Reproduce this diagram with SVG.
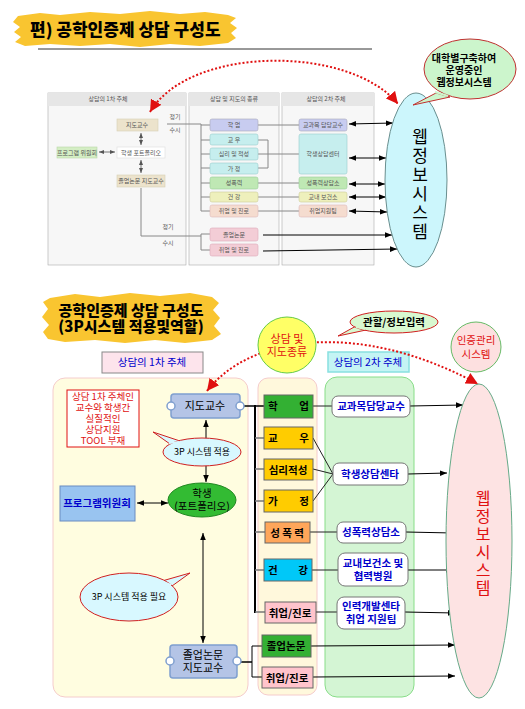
<svg xmlns="http://www.w3.org/2000/svg" width="525" height="709" viewBox="0 0 525 709">
<defs>
<style>
text{font-family:"Noto Sans CJK KR","Noto Sans",sans-serif;}
.t{font-size:6px;fill:#555;text-anchor:middle}
.sb{stroke:#aaa;stroke-width:0.6}
.gl{stroke:#888;stroke-width:1;fill:none}
.bk{stroke:#000;stroke-width:1;fill:none}
.red{stroke:#e01010;stroke-width:2;stroke-dasharray:2,2;fill:none}
.mid{font-size:10.5px;fill:#000;font-weight:bold}
.blu{font-size:10.5px;fill:#0000cc;font-weight:bold;text-anchor:middle}
.bx{stroke:#666;stroke-width:1}
.wb{fill:#fff;stroke:#777;stroke-width:1}
.vt{writing-mode:vertical-rl;text-anchor:start}
</style>
<marker id="ah" viewBox="0 0 10 10" refX="10" refY="5" markerWidth="7" markerHeight="7" orient="auto-start-reverse" markerUnits="userSpaceOnUse"><path d="M0,1 L10,5 L0,9 Z" fill="#000"/></marker>
<marker id="ahs" viewBox="0 0 10 10" refX="10" refY="5" markerWidth="5" markerHeight="5" orient="auto-start-reverse" markerUnits="userSpaceOnUse"><path d="M0,1 L10,5 L0,9 Z" fill="#555"/></marker>
<marker id="rh" viewBox="0 0 10 10" refX="10" refY="5" markerWidth="12" markerHeight="12" orient="auto-start-reverse" markerUnits="userSpaceOnUse"><path d="M0,0 L10,5 L0,10 Z" fill="#e01010"/></marker>
</defs>
<rect width="525" height="709" fill="#fff"/>

<!-- ===== TOP SECTION ===== -->
<g id="title1">
<path d="M18,16 L40,13 L60,15 L90,12 L120,14 L150,11 L180,14 L205,12 L228,15 L236,18 L230,23 L237,28 L231,33 L236,38 L228,43 L200,46 L170,44 L140,47 L110,44 L80,46 L50,44 L25,46 L15,42 L21,37 L14,32 L20,27 L13,22 Z" fill="#f9c530"/>
<text x="30" y="36" font-size="17" font-weight="900" fill="#000">편) 공학인증제 상담 구성도</text>
</g>
<line x1="38" y1="49" x2="372" y2="49" stroke="#333" stroke-width="1"/>

<g id="embedded">
<rect x="48" y="93" width="138" height="172" fill="#f7f7f7" class="sb"/>
<rect x="48" y="93" width="138" height="13" fill="#e6e6e6"/>
<rect x="189" y="93" width="90" height="172" fill="#f7f7f7" class="sb"/>
<rect x="189" y="93" width="90" height="13" fill="#e6e6e6"/>
<rect x="282" y="93" width="92" height="172" fill="#f7f7f7" class="sb"/>
<rect x="282" y="93" width="92" height="13" fill="#e6e6e6"/>
<text class="t" x="108" y="101">상담의 1차 주체</text>
<text class="t" x="234" y="101">상담 및 지도의 종류</text>
<text class="t" x="326" y="101">상담의 2차 주체</text>
<rect x="117" y="119" width="41" height="12" fill="#ece3cc" stroke="#d8cfb4" stroke-width="0.6"/>
<text class="t" x="137" y="127">지도교수</text>
<rect x="117" y="147" width="48" height="11" fill="#fff" stroke="#ddd" stroke-width="0.6"/>
<text class="t" x="141" y="155">학생 포트폴리오</text>
<rect x="57" y="147" width="40" height="11" fill="#d4eec4" stroke="#b8d8a8" stroke-width="0.6"/>
<text class="t" x="77" y="155">프로그램 위원회</text>
<rect x="117" y="175" width="48" height="12" fill="#ece3cc" stroke="#d8cfb4" stroke-width="0.6"/>
<text class="t" x="141" y="183">졸업논문 지도교수</text>
<line x1="141" y1="133" x2="141" y2="145" stroke="#555" stroke-width="0.8" marker-start="url(#ahs)" marker-end="url(#ahs)"/>
<line x1="141" y1="160" x2="141" y2="173" stroke="#555" stroke-width="0.8" marker-start="url(#ahs)" marker-end="url(#ahs)"/>
<line x1="99" y1="152" x2="115" y2="152" stroke="#555" stroke-width="0.8" marker-start="url(#ahs)" marker-end="url(#ahs)"/>
<text class="t" x="175" y="119">정기</text>
<text class="t" x="175" y="132">수시</text>
<text class="t" x="168" y="229">정기</text>
<text class="t" x="168" y="245">수시</text>
<g class="gl">
<polyline points="167,124 201,124 201,211 210,211"/>
<line x1="201" y1="125" x2="210" y2="125"/>
<line x1="201" y1="140" x2="210" y2="140"/>
<line x1="201" y1="154" x2="210" y2="154"/>
<line x1="201" y1="168" x2="210" y2="168"/>
<line x1="201" y1="183" x2="210" y2="183"/>
<line x1="201" y1="197" x2="210" y2="197"/>
<polyline points="141,188 141,236 201,236"/>
<polyline points="210,234 201,234 201,250 210,250"/>
<line x1="258" y1="125" x2="299" y2="125"/>
<polyline points="258,140 268,140 268,168 258,168"/>
<line x1="258" y1="154" x2="299" y2="154"/>
<line x1="258" y1="183" x2="299" y2="183"/>
<line x1="258" y1="197" x2="299" y2="197"/>
<line x1="258" y1="211" x2="299" y2="211"/>
</g>
<rect x="210" y="119" width="48" height="12" rx="2" fill="#c8ccf0" stroke="#aab" stroke-width="0.6"/>
<text class="t" x="234" y="127">학 업</text>
<rect x="210" y="134" width="48" height="11" rx="2" fill="#c6eeee" stroke="#9cc" stroke-width="0.6"/>
<text class="t" x="234" y="142">교 우</text>
<rect x="210" y="148" width="48" height="12" rx="2" fill="#c6eeee" stroke="#9cc" stroke-width="0.6"/>
<text class="t" x="234" y="156">심리 및 적성</text>
<rect x="210" y="163" width="48" height="11" rx="2" fill="#c6eeee" stroke="#9cc" stroke-width="0.6"/>
<text class="t" x="234" y="171">가 정</text>
<rect x="210" y="177" width="48" height="12" rx="2" fill="#bfe8b4" stroke="#9c9" stroke-width="0.6"/>
<text class="t" x="234" y="185">성폭력</text>
<rect x="210" y="192" width="48" height="10" rx="2" fill="#eef0bc" stroke="#cc9" stroke-width="0.6"/>
<text class="t" x="234" y="199">건 강</text>
<rect x="210" y="205" width="48" height="12" rx="2" fill="#f5dccf" stroke="#dbb" stroke-width="0.6"/>
<text class="t" x="234" y="213">취업 및 진로</text>
<rect x="210" y="228" width="48" height="13" rx="2" fill="#f3cdd6" stroke="#dab" stroke-width="0.6"/>
<text class="t" x="234" y="237">졸업논문</text>
<rect x="210" y="244" width="48" height="12" rx="2" fill="#f3cdd6" stroke="#dab" stroke-width="0.6"/>
<text class="t" x="234" y="252">취업 및 진로</text>
<rect x="299" y="119" width="48" height="12" rx="2" fill="#c8ccf0" stroke="#aab" stroke-width="0.6"/>
<text class="t" x="323" y="127">교과목 담당교수</text>
<rect x="299" y="134" width="48" height="40" rx="2" fill="#c6eeee" stroke="#9cc" stroke-width="0.6"/>
<text class="t" x="323" y="156">학생상담센터</text>
<rect x="299" y="177" width="48" height="12" rx="2" fill="#bfe8b4" stroke="#9c9" stroke-width="0.6"/>
<text class="t" x="323" y="185">성폭력상담소</text>
<rect x="299" y="192" width="48" height="10" rx="2" fill="#eef0bc" stroke="#cc9" stroke-width="0.6"/>
<text class="t" x="323" y="199">교내 보건소</text>
<rect x="299" y="205" width="48" height="12" rx="2" fill="#f5dccf" stroke="#dbb" stroke-width="0.6"/>
<text class="t" x="323" y="213">취업지원팀</text>
</g>

<g id="top-connectors">
<line x1="349" y1="124" x2="393" y2="123" class="bk" marker-start="url(#ah)" marker-end="url(#ah)"/>
<line x1="349" y1="158" x2="386" y2="158" class="bk" marker-start="url(#ah)" marker-end="url(#ah)"/>
<line x1="349" y1="184" x2="385" y2="184" class="bk" marker-start="url(#ah)" marker-end="url(#ah)"/>
<line x1="349" y1="197" x2="386" y2="197" class="bk" marker-start="url(#ah)" marker-end="url(#ah)"/>
<line x1="349" y1="211" x2="387" y2="212" class="bk" marker-start="url(#ah)" marker-end="url(#ah)"/>
<line x1="263" y1="235" x2="392" y2="235" class="bk" marker-end="url(#ah)"/>
<line x1="263" y1="251" x2="397" y2="249" class="bk" marker-end="url(#ah)"/>
<path d="M150,112 C190,45 350,45 398,104" class="red" marker-start="url(#rh)" marker-end="url(#rh)"/>
</g>

<g id="web1">
<ellipse cx="416" cy="180" rx="31" ry="87" fill="#ccf6fc" stroke="#6a8f8f" stroke-width="1"/>
<text class="vt" x="420" y="128" font-size="17" letter-spacing="2" fill="#000">웹정보시스템</text>
</g>
<g id="bubble1">
<path d="M436,93 L413,105 L450,97 Z" fill="#ccf5cc" stroke="#c03030" stroke-width="1"/>
<ellipse cx="470" cy="69" rx="46" ry="30" fill="#ccf5cc" stroke="#c03030" stroke-width="1"/>
<path d="M435,92 L448,96" stroke="#ccf5cc" stroke-width="2"/>
<text font-size="10" font-weight="bold" text-anchor="middle" fill="#000"><tspan x="464" y="62">대학별구축하여</tspan><tspan x="464" y="74">운영중인</tspan><tspan x="464" y="86">웹정보시스템</tspan></text>
</g>

<!-- ===== BOTTOM SECTION ===== -->
<g id="title2">
<path d="M50,298 L75,294 L100,297 L130,293 L160,296 L190,293 L212,297 L219,303 L213,310 L220,318 L214,326 L221,334 L212,340 L185,343 L155,340 L125,343 L95,340 L65,342 L48,339 L43,332 L49,325 L42,317 L48,309 L43,302 Z" fill="#f9c530"/>
<text font-size="15" font-weight="900" text-anchor="middle" fill="#000"><tspan x="131" y="316">공학인증제 상담 구성도</tspan><tspan x="131" y="332">(3P시스템 적용및역할)</tspan></text>
</g>

<g id="panels">
<rect x="53" y="378" width="195" height="319" rx="12" fill="#fffde0" stroke="#f5cccc" stroke-width="1"/>
<rect x="258" y="378" width="59" height="317" rx="10" fill="#fff8dc" stroke="#f5cccc" stroke-width="1"/>
<rect x="325" y="377" width="89" height="320" rx="12" fill="#d4f5d4" stroke="#88dd88" stroke-width="1"/>
</g>

<g id="head1">
<rect x="102" y="352" width="101" height="21" fill="#fde4ec" stroke="#888" stroke-width="1"/>
<text x="152" y="366" font-size="10.5" text-anchor="middle" fill="#0000cc">상담의 1차 주체</text>
</g>
<g id="head2">
<rect x="328" y="352" width="81" height="20" fill="#c4f4f4" stroke="#88e0e0" stroke-width="1.5"/>
<text x="368" y="366" font-size="10.5" text-anchor="middle" fill="#0000cc">상담의 2차 주체</text>
</g>

<g id="bottom-connectors">
<path d="M207,391 C250,335 360,320 478,384" class="red" marker-start="url(#rh)" marker-end="url(#rh)"/>
<line x1="206" y1="420" x2="206" y2="482" class="bk" marker-start="url(#ah)" marker-end="url(#ah)"/>
<line x1="137" y1="503" x2="168" y2="503" class="bk" marker-start="url(#ah)" marker-end="url(#ah)"/>
<line x1="203" y1="533" x2="203" y2="643" class="bk" marker-start="url(#ah)" marker-end="url(#ah)"/>
<line x1="244" y1="406" x2="264" y2="406" stroke="#000" stroke-width="1.5"/>
<line x1="255" y1="405" x2="255" y2="613" stroke="#000" stroke-width="2"/>
<g stroke="#777" stroke-width="1.5">
<line x1="255" y1="438" x2="264" y2="438"/>
<line x1="255" y1="469" x2="264" y2="469"/>
<line x1="255" y1="501" x2="264" y2="501"/>
<line x1="255" y1="532" x2="265" y2="532"/>
<line x1="255" y1="570" x2="264" y2="570"/>
<line x1="255" y1="612" x2="265" y2="612"/>
</g>
<polyline points="240,662 252,662" stroke="#000" stroke-width="1.5" fill="none"/>
<polyline points="262,646 252,646 252,677 262,677" stroke="#000" stroke-width="1" fill="none"/>
<g stroke="#222" stroke-width="1" fill="none">
<line x1="313" y1="406" x2="332" y2="406"/>
<line x1="313" y1="438" x2="333" y2="474"/>
<line x1="313" y1="469" x2="333" y2="474"/>
<line x1="313" y1="501" x2="333" y2="474"/>
<line x1="310" y1="532" x2="337" y2="532"/>
<line x1="312" y1="570" x2="338" y2="570"/>
<line x1="316" y1="612" x2="337" y2="612"/>
</g>
<line x1="410" y1="406" x2="463" y2="405" class="bk" marker-end="url(#ah)"/>
<line x1="408" y1="474" x2="447" y2="473" class="bk" marker-end="url(#ah)"/>
<line x1="406" y1="532" x2="453" y2="533" class="bk" marker-end="url(#ah)"/>
<line x1="408" y1="570" x2="453" y2="570" class="bk" marker-end="url(#ah)"/>
<line x1="405" y1="612" x2="455" y2="613" class="bk" marker-end="url(#ah)"/>
<line x1="311" y1="646" x2="455" y2="645" class="bk" marker-end="url(#ah)"/>
<line x1="313" y1="677" x2="455" y2="676" class="bk" marker-end="url(#ah)"/>
</g>

<g id="circle-kind">
<ellipse cx="287" cy="345" rx="29" ry="28" fill="#ffff66" stroke="#66cc44" stroke-width="1"/>
<text font-size="11" text-anchor="middle" fill="#e01010"><tspan x="287" y="343">상담 및</tspan><tspan x="287" y="356">지도종류</tspan></text>
</g>
<g id="bubble-input">
<path d="M356,326 L338,336 L366,330 Z" fill="#d8f8d0" stroke="#d02020" stroke-width="1"/>
<ellipse cx="394" cy="322" rx="44" ry="11" fill="#d8f8d0" stroke="#d02020" stroke-width="1"/>
<path d="M356,327 L365,329" stroke="#d8f8d0" stroke-width="2"/>
<text x="394" y="326" font-size="10.5" font-weight="bold" text-anchor="middle" fill="#000">관할/정보입력</text>
</g>
<g id="circle-cert">
<ellipse cx="476" cy="347" rx="25" ry="25" fill="#fde0e0" stroke="#66bb66" stroke-width="1"/>
<text font-size="10.5" text-anchor="middle" fill="#e01010"><tspan x="476" y="344">인증관리</tspan><tspan x="476" y="358">시스템</tspan></text>
</g>

<g id="note-red">
<rect x="67" y="390" width="72" height="57" fill="#fff" stroke="#e01010" stroke-width="1"/>
<text font-size="9.5" text-anchor="middle" fill="#e01010"><tspan x="103" y="400">상담 1차 주체인</tspan><tspan x="103" y="411">교수와 학생간</tspan><tspan x="103" y="422">실질적인</tspan><tspan x="103" y="433">상담지원</tspan><tspan x="103" y="444">TOOL 부재</tspan></text>
</g>

<g id="prof">
<rect x="171" y="394" width="69" height="24" rx="3" fill="#b4c4e6" stroke="#7f9fcf" stroke-width="1.5"/>
<circle cx="171" cy="406" r="4" fill="#fff" stroke="#7f9fcf" stroke-width="1.5"/>
<circle cx="240" cy="406" r="4" fill="#fff" stroke="#7f9fcf" stroke-width="1.5"/>
<text x="205" y="410" font-size="11" text-anchor="middle" fill="#000">지도교수</text>
</g>
<g id="bubble-3p">
<path d="M170,444 L153,432 L180,441 Z" fill="#d8f8ff" stroke="#d02020" stroke-width="1"/>
<ellipse cx="202" cy="452" rx="39" ry="14" fill="#d8f8ff" stroke="#d02020" stroke-width="1"/>
<path d="M169,443 L179,442" stroke="#d8f8ff" stroke-width="2"/>
<text x="202" y="455" font-size="9" text-anchor="middle" fill="#000">3P 시스템 적용</text>
</g>
<g id="student">
<ellipse cx="202" cy="500" rx="34" ry="17" fill="#33bb33" stroke="#228822" stroke-width="1"/>
<text font-size="10.5" text-anchor="middle" fill="#000"><tspan x="202" y="497">학생</tspan><tspan x="202" y="510">(포트폴리오)</tspan></text>
</g>
<g id="committee">
<rect x="60" y="486" width="75" height="35" fill="#99c4f0" stroke="#6a8cc0" stroke-width="1"/>
<text x="97" y="507" font-size="10.5" font-weight="bold" text-anchor="middle" fill="#0000cc">프로그램위원회</text>
</g>
<g id="bubble-need">
<path d="M162,581 L190,573 L172,586 Z" fill="#d8f8ff" stroke="#d02020" stroke-width="1"/>
<ellipse cx="129" cy="597" rx="49" ry="24" fill="#d8f8ff" stroke="#d02020" stroke-width="1"/>
<path d="M163,582 L171,585" stroke="#d8f8ff" stroke-width="2"/>
<text x="129" y="600" font-size="9" text-anchor="middle" fill="#000">3P 시스템 적용 필요</text>
</g>
<g id="thesis-prof">
<rect x="170" y="645" width="67" height="33" rx="3" fill="#b4c4e6" stroke="#7f9fcf" stroke-width="1.5"/>
<circle cx="170" cy="661" r="4" fill="#fff" stroke="#7f9fcf" stroke-width="1.5"/>
<circle cx="237" cy="661" r="4" fill="#fff" stroke="#7f9fcf" stroke-width="1.5"/>
<text font-size="11" text-anchor="middle" fill="#000"><tspan x="203" y="659">졸업논문</tspan><tspan x="203" y="672">지도교수</tspan></text>
</g>

<g id="k-study"><rect x="264" y="395" width="49" height="23" fill="#33b033" class="bx"/><text class="mid" x="268" y="410">학</text><text class="mid" x="309" y="410" text-anchor="end">업</text></g>
<g id="k-friend"><rect x="264" y="427" width="49" height="22" fill="#ffcc00" class="bx"/><text class="mid" x="268" y="442">교</text><text class="mid" x="309" y="442" text-anchor="end">우</text></g>
<g id="k-psy"><rect x="264" y="459" width="49" height="21" fill="#ffcc00" class="bx"/><text class="mid" x="288" y="474" text-anchor="middle">심리적성</text></g>
<g id="k-family"><rect x="264" y="490" width="49" height="22" fill="#ffcc00" class="bx"/><text class="mid" x="268" y="505">가</text><text class="mid" x="309" y="505" text-anchor="end">정</text></g>
<g id="k-sv"><rect x="265" y="522" width="45" height="21" fill="#ffa65a" class="bx"/><text class="mid" x="287" y="537" text-anchor="middle">성 폭 력</text></g>
<g id="k-health"><rect x="264" y="559" width="48" height="22" fill="#00c8f8" class="bx"/><text class="mid" x="268" y="574">건</text><text class="mid" x="308" y="574" text-anchor="end">강</text></g>
<g id="k-career"><rect x="265" y="602" width="51" height="21" fill="#ffc4cc" class="bx"/><text class="mid" x="290" y="617" text-anchor="middle">취업/진로</text></g>
<g id="k-thesis"><rect x="262" y="635" width="49" height="22" fill="#33b033" class="bx"/><text class="mid" x="286" y="650" text-anchor="middle">졸업논문</text></g>
<g id="k-career2"><rect x="262" y="667" width="51" height="21" fill="#ffc4cc" class="bx"/><text class="mid" x="287" y="682" text-anchor="middle">취업/진로</text></g>

<g id="s-course"><rect x="332" y="396" width="78" height="21" rx="6" class="wb"/><text class="blu" x="371" y="410">교과목담당교수</text></g>
<g id="s-center"><rect x="333" y="463" width="75" height="22" rx="6" class="wb"/><text class="blu" x="370" y="478">학생상담센타</text></g>
<g id="s-sv"><rect x="337" y="522" width="69" height="21" rx="6" class="wb"/><text class="blu" x="371" y="536">성폭력상담소</text></g>
<g id="s-health"><rect x="338" y="553" width="70" height="33" rx="7" class="wb"/><text class="blu"><tspan x="373" y="567">교내보건소 및</tspan><tspan x="373" y="580">협력병원</tspan></text></g>
<g id="s-career"><rect x="337" y="597" width="68" height="32" rx="7" class="wb"/><text class="blu"><tspan x="371" y="610">인력개발센타</tspan><tspan x="371" y="623">취업 지원팀</tspan></text></g>

<g id="web2">
<ellipse cx="479" cy="541" rx="33" ry="157" fill="#fde3e3" stroke="#66aa88" stroke-width="1"/>
<text class="vt" x="483" y="490" font-size="16" letter-spacing="2" fill="#e01010">웹정보시스템</text>
</g>
</svg>
